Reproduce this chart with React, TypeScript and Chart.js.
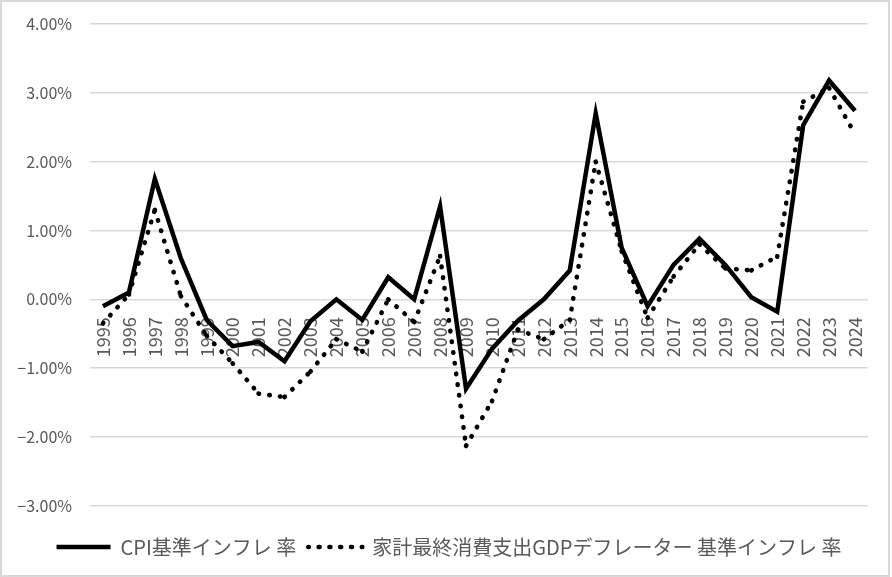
import { useEffect, useRef } from "react";
import { Chart, registerables } from "chart.js";

Chart.register(...registerables);

const years = [
  "1995", "1996", "1997", "1998", "1999", "2000", "2001", "2002", "2003", "2004",
  "2005", "2006", "2007", "2008", "2009", "2010", "2011", "2012", "2013", "2014",
  "2015", "2016", "2017", "2018", "2019", "2020", "2021", "2022", "2023", "2024",
];

const cpiInflation = [
  -0.1, 0.1, 1.75, 0.6, -0.3, -0.68, -0.62, -0.9, -0.32, 0.0,
  -0.3, 0.32, 0.0, 1.35, -1.3, -0.72, -0.31, 0.0, 0.42, 2.7,
  0.75, -0.1, 0.5, 0.88, 0.5, 0.03, -0.18, 2.53, 3.18, 2.74,
];

const deflatorInflation = [
  -0.35, 0.07, 1.3, 0.05, -0.53, -0.93, -1.37, -1.42, -1.05, -0.58,
  -0.76, 0.0, -0.33, 0.63, -2.13, -1.48, -0.44, -0.58, -0.3, 2.0,
  0.7, -0.27, 0.33, 0.8, 0.45, 0.42, 0.62, 2.87, 3.07, 2.4,
];

const seriesNames = [
  "CPI基準インフレ 率",
  "家計最終消費支出GDPデフレーター 基準インフレ 率",
];

const yMin = -3;
const yMax = 4;
const yStep = 1;

const FONT = '"Noto Sans CJK JP", "Noto Sans", sans-serif';
const TEXT_COLOR = "#595959";
const GRID_COLOR = "#d9d9d9";
const Y_FONT_SIZE = 16;

const formatPct = (v: number) =>
  (v < 0 ? "\u2212" : "") + Math.abs(v).toFixed(2) + "%";

export default function App() {
  const ref = useRef<HTMLCanvasElement>(null);

  useEffect(() => {
    if (!ref.current) return;

    // width of the widest y tick label, so right-aligned labels end 18px left of the plot
    const mctx = document.createElement("canvas").getContext("2d")!;
    mctx.font = `normal ${Y_FONT_SIZE}px ${FONT}`;
    let widest = 0;
    for (let v = yMin; v <= yMax; v += yStep) {
      widest = Math.max(widest, mctx.measureText(formatPct(v)).width);
    }

    const chart = new Chart(ref.current, {
      type: "line",
      data: {
        labels: years,
        datasets: [
          {
            label: seriesNames[0],
            data: cpiInflation,
            borderColor: "#000000",
            backgroundColor: "#000000",
            borderWidth: 4.5,
            borderJoinStyle: "miter",
            pointRadius: 0,
            tension: 0,
          },
          {
            label: seriesNames[1],
            data: deflatorInflation,
            borderColor: "#000000",
            backgroundColor: "#000000",
            borderWidth: 4.6,
            borderDash: [0.5, 10.3],
            borderCapStyle: "round",
            pointRadius: 0,
            tension: 0,
            segment: {
              borderDashOffset: (c: any) => (c.p0DataIndex % 2) * 0.001,
            },
          },
        ],
      },
      options: {
        responsive: false,
        animation: false,
        layout: { padding: { left: 28, right: 20, top: 22, bottom: 8 } },
        plugins: {
          legend: {
            position: "bottom",
            title: {
              display: true,
              text: "",
              font: { size: 1 },
              padding: { top: 0, bottom: 18 },
            },
            labels: {
              boxWidth: 54,
              boxHeight: 0,
              color: TEXT_COLOR,
              padding: 12,
              font: { family: FONT, size: 20 },
            },
          },
          tooltip: { enabled: false },
        },
        scales: {
          x: {
            type: "category",
            position: { y: 0 } as any,
            offset: true,
            grid: { display: false },
            border: { display: false },
            ticks: {
              autoSkip: false,
              minRotation: 90,
              maxRotation: 90,
              padding: 10,
              color: TEXT_COLOR,
              font: { family: FONT, size: 18 },
            },
          },
          y: {
            min: yMin,
            max: yMax,
            border: { display: false },
            grid: {
              color: GRID_COLOR,
              lineWidth: 1.5,
              drawTicks: false,
            },
            ticks: {
              stepSize: yStep,
              mirror: true,
              crossAlign: "far",
              padding: -(18 + widest),
              color: TEXT_COLOR,
              font: { family: FONT, size: Y_FONT_SIZE },
              callback: (v: any) => formatPct(Number(v)),
            },
            afterFit: (s: any) => {
              s.width = 60;
            },
          },
        },
      },
    });
    return () => chart.destroy();
  }, []);

  return (
    <div
      style={{
        position: "absolute",
        left: 0,
        top: 0,
        width: 890,
        height: 577,
        boxSizing: "border-box",
        border: "2px solid #d9d9d9",
        background: "#ffffff",
      }}
    >
      <canvas ref={ref} width={886} height={573} style={{ display: "block" }} />
    </div>
  );
}
